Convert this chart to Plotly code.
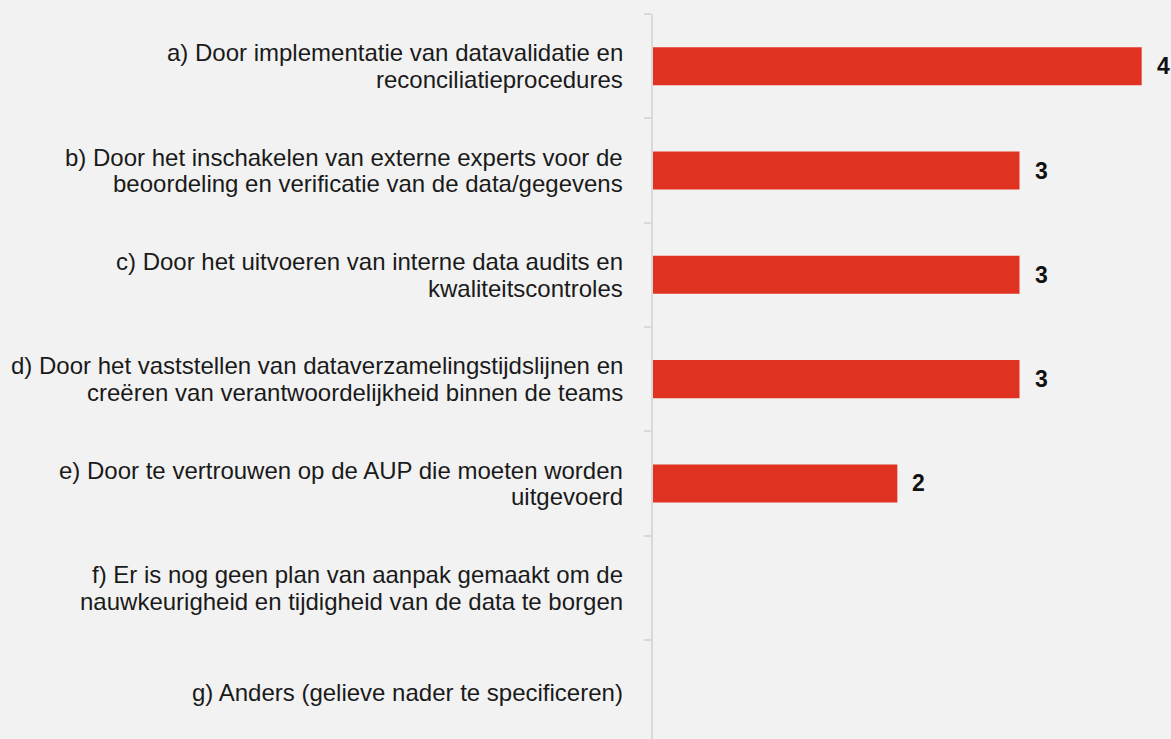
import plotly.graph_objects as go

categories = [
    "a) Door implementatie van datavalidatie en<br>reconciliatieprocedures",
    "b) Door het inschakelen van externe experts voor de<br>beoordeling en verificatie van de data/gegevens",
    "c) Door het uitvoeren van interne data audits en<br>kwaliteitscontroles",
    "d) Door het vaststellen van dataverzamelingstijdslijnen en<br>creëren van verantwoordelijkheid binnen de teams",
    "e) Door te vertrouwen op de AUP die moeten worden<br>uitgevoerd",
    "f) Er is nog geen plan van aanpak gemaakt om de<br>nauwkeurigheid en tijdigheid van de data te borgen",
    "g) Anders (gelieve nader te specificeren)",
]
values = [4, 3, 3, 3, 2, 0, 0]

BAR_COLOR = "#E03221"
BG = "#F2F2F2"
AXIS_COLOR = "#D9D9D9"
FONT = "Liberation Sans, Arial, sans-serif"
LABEL_SIZE = 24
LINE_GAP = 26.7

fig = go.Figure()
fig.add_trace(go.Bar(
    y=categories,
    x=values,
    orientation="h",
    marker=dict(color=BAR_COLOR, line=dict(width=0)),
    width=0.365,
    hoverinfo="skip",
))

annotations = []
# category labels (one annotation per line for tighter line spacing)
for c in categories:
    lines = c.split("<br>")
    n = len(lines)
    for i, line in enumerate(lines):
        off = (i - (n - 1) / 2) * LINE_GAP
        annotations.append(dict(
            x=0, xref="paper", y=c, yref="y",
            text=line, showarrow=False,
            xanchor="right", yanchor="middle",
            xshift=-28, yshift=-off,
            font=dict(family=FONT, size=LABEL_SIZE, color="#1a1a1a"),
        ))
# value labels
for c, v in zip(categories, values):
    if v > 0:
        annotations.append(dict(
            x=v, y=c, xref="x", yref="y",
            text=f"<b>{v}</b>", showarrow=False,
            xanchor="left", yanchor="middle", xshift=13,
            font=dict(family=FONT, size=23, color="#111111"),
        ))

fig.update_layout(
    width=1171, height=739,
    margin=dict(l=653, r=0, t=14, b=0),
    paper_bgcolor=BG, plot_bgcolor=BG,
    showlegend=False,
    annotations=annotations,
    font=dict(family=FONT, color="#1a1a1a"),
    xaxis=dict(range=[0, 4.24], visible=False, showgrid=False, zeroline=False, fixedrange=True),
    yaxis=dict(
        type="category",
        range=[6.449, -0.5],
        showline=True, linecolor=AXIS_COLOR, linewidth=2,
        ticks="outside", tickson="boundaries", ticklen=7, tickcolor=AXIS_COLOR, tickwidth=2,
        showgrid=False, zeroline=False,
        showticklabels=False,
        fixedrange=True,
    ),
)

fig.write_html("out.html", config={"displayModeBar": False, "staticPlot": True})

with open("out.html", "r", encoding="utf-8") as f:
    html = f.read()
html = html.replace("<head>", "<head><style>html,body{margin:0;padding:0;overflow:hidden;background:#F2F2F2;}</style>", 1)
with open("out.html", "w", encoding="utf-8") as f:
    f.write(html)
